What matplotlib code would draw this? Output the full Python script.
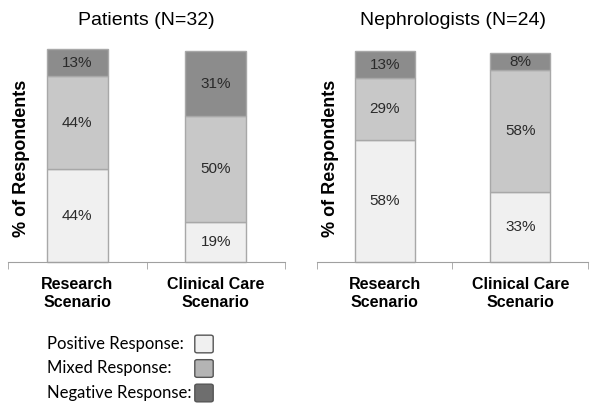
import matplotlib
matplotlib.use("Agg")
import matplotlib.pyplot as plt
from matplotlib.patches import FancyBboxPatch

plt.rcParams['font.family'] = ['Liberation Sans', 'DejaVu Sans']

scenarios = ["Research\nScenario", "Clinical Care\nScenario"]
responses = ["Positive Response:", "Mixed Response:", "Negative Response:"]
groups = ["Patients (N=32)", "Nephrologists (N=24)"]

# positive, mixed, negative (%) per scenario
patients = [[44, 19], [44, 50], [13, 31]]
nephrologists = [[58, 33], [29, 58], [13, 8]]

bar_colors = ["#f0f0f0", "#c8c8c8", "#8c8c8c"]
legend_colors = ["#f0f0f0", "#b4b4b4", "#6e6e6e"]

fig = plt.figure(figsize=(6.02, 4.16), dpi=100)
ax1 = fig.add_axes([8/602, 1-262/416, 277/602, 211/416])
ax2 = fig.add_axes([317/602, 1-262/416, 271/602, 211/416])

for ax, title, data in zip([ax1, ax2], groups, [patients, nephrologists]):
    x = list(range(len(scenarios)))
    bottom = [0] * len(scenarios)
    for vals, col in zip(data, bar_colors):
        bars = ax.bar(x, vals, width=0.44, bottom=bottom, color=col,
                      edgecolor="#a8a8a8", linewidth=1, clip_on=False)
        for b, v, bt in zip(bars, vals, bottom):
            ax.text(b.get_x() + b.get_width()/2, bt + v/2, f"{v}%",
                    ha="center", va="center", fontsize=11, color="#2a2a2a")
        bottom = [a + b for a, b in zip(bottom, vals)]
    ax.set_xlim(-0.5, 1.5)
    ax.set_ylim(0, 100)
    ax.set_xticks(x)
    ax.set_xticklabels(scenarios, fontweight="bold", fontsize=11.5)
    ax.tick_params(axis="x", length=0, pad=11)
    ax.set_xticks([-0.5, 0.5, 1.5], minor=True)
    ax.tick_params(axis="x", which="minor", length=5, color="#a0a0a0", direction="out")
    ax.set_yticks([])
    for s in ["top", "right", "left"]:
        ax.spines[s].set_visible(False)
    ax.spines["bottom"].set_color("#a0a0a0")
    ax.set_ylabel("% of Respondents", fontweight="bold", fontsize=13)
    ax.yaxis.set_label_coords(0.08, 0.49)
    ax.set_title(title, fontsize=14, pad=19)

# legend
for i, (lab, col) in enumerate(zip(responses, legend_colors)):
    yc = 344 + i * 24.5
    fig.text(47/602, 1 - yc/416, lab, fontsize=12, family=['Lato', 'DejaVu Sans'],
             ha="left", va="center")
    fig.patches.append(FancyBboxPatch((196/602, 1 - (yc + 8)/416), 16/602, 16/416,
                                      boxstyle="round,pad=0.002,rounding_size=0.004",
                                      transform=fig.transFigure, facecolor=col,
                                      edgecolor="#555555", linewidth=1))

fig.savefig("out.png", dpi=100)
